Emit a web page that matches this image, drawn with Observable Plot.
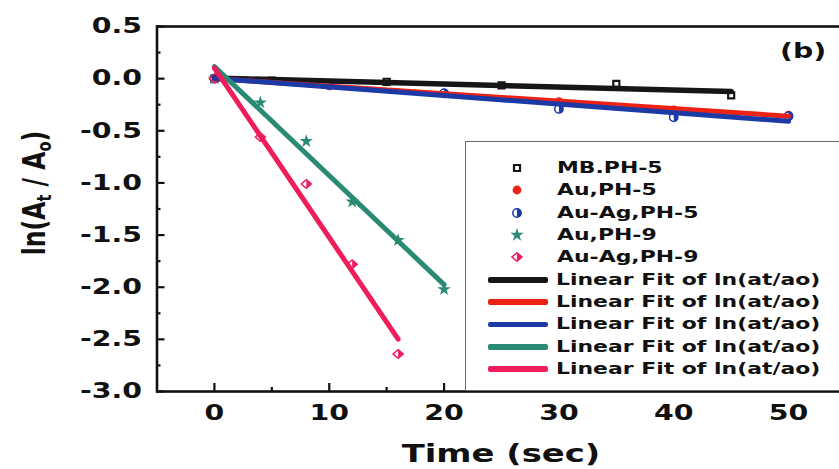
<!DOCTYPE html>
<html><head><meta charset="utf-8">
<script src="https://cdn.jsdelivr.net/npm/d3@7"></script>
<script src="https://cdn.jsdelivr.net/npm/@observablehq/plot@0.6"></script>
<style>
html,body{margin:0;padding:0;overflow:hidden;background:#fff;width:839px;height:469px}
#wrap{position:relative;width:839px;height:469px;overflow:hidden;background:#fff;font-family:"DejaVu Sans",sans-serif;font-weight:bold;color:#111}
#wrap svg{position:absolute;left:0;top:0;max-width:none}
.ov{position:absolute;white-space:nowrap}
.ylab sub{font-size:0.62em;vertical-align:-0.32em;line-height:0}
</style></head><body><div id="wrap"></div>
<script>
// ---- data ----
const mbTime = [0, 5, 15, 25, 35, 45];
const mbVal = [0, -0.02, -0.03, -0.064, -0.05, -0.16];
const auP5Time = [0, 10, 20, 30, 40, 50];
const auP5Val = [0, -0.07, -0.14, -0.22, -0.30, -0.35];
const auagP5Time = [0, 10, 20, 30, 40, 50];
const auagP5Val = [0, -0.06, -0.14, -0.29, -0.37, -0.36];
const auP9Time = [0, 4, 8, 12, 16, 20];
const auP9Val = [0, -0.23, -0.60, -1.18, -1.55, -2.02];
const auagP9Time = [0, 4, 8, 12, 16];
const auagP9Val = [0, -0.56, -1.01, -1.78, -2.64];
const seriesNames = ["MB.PH-5", "Au,PH-5", "Au-Ag,PH-5", "Au,PH-9", "Au-Ag,PH-9"];
const seriesColors = ["#161616", "#ec2214", "#1c3aa6", "#2b8a74", "#f01d5c"];
const fitLabel = "Linear Fit of ln(at/ao)";
const xTicks = [0, 10, 20, 30, 40, 50];
const xMinor = [5, 15, 25, 35, 45];
const yTicks = [0.5, 0, -0.5, -1, -1.5, -2, -2.5, -3];
const yMinor = [0.25, -0.25, -0.75, -1.25, -1.75, -2.25, -2.75];
const xTitle = "Time (sec)";
const panelTag = "(b)";

// ---- table ----
const rows = [];
function addSeries(name, ts, vs) { ts.forEach((t, i) => rows.push({series: name, t, v: vs[i]})); }
addSeries(seriesNames[0], mbTime, mbVal);
addSeries(seriesNames[1], auP5Time, auP5Val);
addSeries(seriesNames[2], auagP5Time, auagP5Val);
addSeries(seriesNames[3], auP9Time, auP9Val);
addSeries(seriesNames[4], auagP9Time, auagP9Val);
const byName = n => rows.filter(d => d.series === n);

// ---- custom symbols ----
const halfCircleRight = {draw(ctx, size) { const r = Math.sqrt(size / Math.PI); ctx.moveTo(0, -r); ctx.arc(0, 0, r, -Math.PI / 2, Math.PI / 2); ctx.closePath(); }};
const diamondWide = {draw(ctx, size) { const r = Math.sqrt(size / Math.PI) * 1.2, h = r * 0.85; ctx.moveTo(0, -h); ctx.lineTo(r, 0); ctx.lineTo(0, h); ctx.lineTo(-r, 0); ctx.closePath(); }};
const halfDiamondRight = {draw(ctx, size) { const r = Math.sqrt(size / Math.PI) * 1.2, h = r * 0.85; ctx.moveTo(0, -h); ctx.lineTo(r, 0); ctx.lineTo(0, h); ctx.closePath(); }};

const fmt = d => d.toFixed(1);

const chart = Plot.plot({
  width: 860, height: 469,
  marginLeft: 156.5, marginRight: 14.5, marginTop: 26, marginBottom: 78,
  x: {domain: [-5, 55]},
  y: {domain: [-3, 0.5]},
  style: {fontFamily: "DejaVu Sans", fontWeight: "bold", color: "#111", background: "transparent", overflow: "visible", maxWidth: "none"},
  marks: [
    Plot.dot(byName(seriesNames[0]), {x: "t", y: "v", symbol: "square", r: 3.4, fill: "white", stroke: seriesColors[0], strokeWidth: 2.2}),
    Plot.dot(byName(seriesNames[1]), {x: "t", y: "v", symbol: "circle", r: 4.4, fill: seriesColors[1]}),
    Plot.dot(byName(seriesNames[2]), {x: "t", y: "v", symbol: "circle", r: 4.2, fill: "white", stroke: seriesColors[2], strokeWidth: 1.5}),
    Plot.dot(byName(seriesNames[2]), {x: "t", y: "v", symbol: halfCircleRight, r: 4.2, fill: seriesColors[2]}),
    Plot.dot(byName(seriesNames[3]), {x: "t", y: "v", symbol: "star", r: 4.2, fill: seriesColors[3]}),
    Plot.dot(byName(seriesNames[4]), {x: "t", y: "v", symbol: diamondWide, r: 4.2, fill: "white", stroke: seriesColors[4], strokeWidth: 1.5}),
    Plot.dot(byName(seriesNames[4]), {x: "t", y: "v", symbol: halfDiamondRight, r: 4.2, fill: seriesColors[4]}),
    ...seriesNames.map((n, i) => Plot.linearRegressionY(byName(n), {x: "t", y: "v", stroke: seriesColors[i], strokeWidth: i === 0 ? 5.5 : 5, ci: 0})),
    Plot.frame({stroke: "#111", strokeWidth: 2.6}),
    Plot.axisX(xTicks, {tickSize: 8, dy: -8, fill: "none", stroke: "#111", strokeWidth: 2.2, label: null}),
    Plot.axisX(xMinor, {tickSize: 4, dy: -4, fill: "none", stroke: "#111", strokeWidth: 2.2, label: null}),
    Plot.axisX(xTicks, {tickSize: 0, tickPadding: 14, fontSize: 21, fill: "#111", label: null}),
    Plot.axisY(yTicks, {tickSize: 8, dx: 8, fill: "none", stroke: "#111", strokeWidth: 2.2, label: null}),
    Plot.axisY(yMinor, {tickSize: 4, dx: 4, fill: "none", stroke: "#111", strokeWidth: 2.2, label: null}),
    Plot.axisY(yTicks, {tickSize: 0, tickPadding: 15, fontSize: 21, fill: "#111", label: null, tickFormat: fmt})
  ]
});
chart.style.maxWidth = "none";
chart.style.width = "860px";
chart.style.height = "469px";

const wrap = document.getElementById("wrap");
wrap.appendChild(chart);
// the reference's lettering is drawn wide: stretch the glyphs horizontally
chart.querySelectorAll("text").forEach(t => {
  const L = t.getComputedTextLength();
  if (L > 0) { t.setAttribute("textLength", (L * 1.35).toFixed(1)); t.setAttribute("lengthAdjust", "spacingAndGlyphs"); }
});

function ov(html, css) {
  const d = document.createElement("div");
  d.className = "ov";
  d.innerHTML = html;
  Object.assign(d.style, css);
  wrap.appendChild(d);
  return d;
}

// x title
ov(`<span style="display:inline-block;transform:scaleX(1.38);transform-origin:center">${xTitle}</span>`,
  {left: "0px", width: "1001px", top: "442px", textAlign: "center", fontSize: "24.5px", lineHeight: "24.5px"});

// y title (rotated)
const yl = ov(`ln(A<sub>t</sub> / A<sub>o</sub>)`,
  {left: "-66px", top: "177.5px", width: "200px", height: "30px", lineHeight: "30px", textAlign: "center", fontSize: "23.5px", transform: "scaleX(1.35) rotate(-90deg)", transformOrigin: "center"});
yl.classList.add("ylab");

// panel tag
ov(`<span style="display:inline-block;transform:scaleX(1.35);transform-origin:left">${panelTag}</span>`,
  {left: "780px", top: "40.5px", fontSize: "21px", lineHeight: "21px"});

// legend
ov("", {left: "465px", top: "141px", width: "420px", height: "250px", border: "1px solid #6a6a6a", background: "#fff", boxSizing: "border-box"});
const legendSyms = [
  [{type: d3.symbolSquare, r: 3.4, fill: "white", stroke: seriesColors[0], sw: 2.2}],
  [{type: d3.symbolCircle, r: 4.4, fill: seriesColors[1]}],
  [{type: d3.symbolCircle, r: 4.2, fill: "white", stroke: seriesColors[2], sw: 1.5}, {type: halfCircleRight, r: 4.2, fill: seriesColors[2]}],
  [{type: d3.symbolStar, r: 4.2, fill: seriesColors[3]}],
  [{type: diamondWide, r: 4.2, fill: "white", stroke: seriesColors[4], sw: 1.5}, {type: halfDiamondRight, r: 4.2, fill: seriesColors[4]}]
];
const row0 = 168, rowStep = 22.35;
legendSyms.forEach((parts, i) => {
  const cy = row0 + i * rowStep;
  const paths = parts.map(p => `<path d="${d3.symbol(p.type, Math.PI * p.r * p.r)()}" fill="${p.fill}" stroke="${p.stroke || "none"}" stroke-width="${p.sw || 0}"/>`).join("");
  ov(`<svg width="24" height="24" style="display:block"><g transform="translate(12,12)">${paths}</g></svg>`, {left: (517 - 12) + "px", top: (cy - 12) + "px"});
  ov(`<span style="display:inline-block;transform:scaleX(1.37);transform-origin:left">${seriesNames[i]}</span>`,
    {left: "557px", top: (cy - 10) + "px", fontSize: "16px", lineHeight: "20px"});
});
seriesColors.forEach((c, i) => {
  const cy = row0 + (i + 5) * rowStep;
  const w = i === 0 ? 6.5 : 5.5;
  ov("", {left: "488px", top: (cy - w / 2) + "px", width: "60px", height: w + "px", background: c, borderRadius: "2px"});
  ov(`<span style="display:inline-block;transform:scaleX(1.37);transform-origin:left">${fitLabel}</span>`,
    {left: "556px", top: (cy - 10) + "px", fontSize: "16px", lineHeight: "20px"});
});
</script>
</body></html>
